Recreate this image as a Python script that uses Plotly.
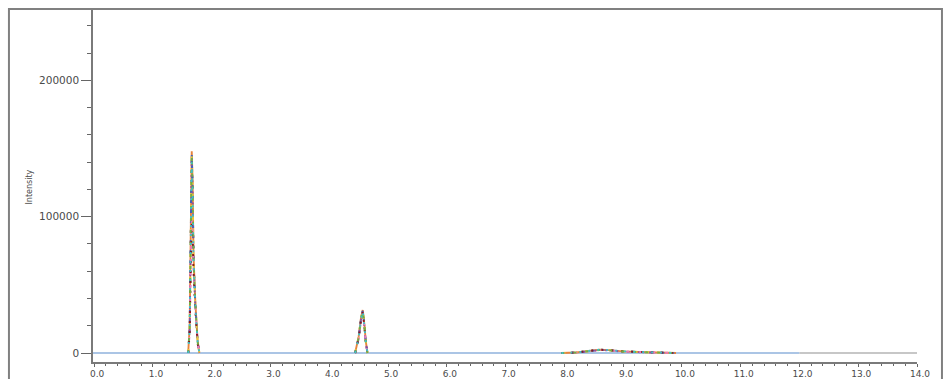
import plotly.graph_objects as go

# Retention time points (min); None marks gaps between peak regions
rt = [1.60, 1.625, 1.645, 1.66, 1.675, 1.69, 1.72, 1.76, 1.79, None,
      4.44, 4.50, 4.54, 4.57, 4.60, 4.62, 4.65, None,
      7.95, 8.20, 8.45, 8.60, 8.75, 9.00, 9.40, 9.90]

# Intensities of each overlaid injection
sig_orange = [0, 20000, 95000, 148000, 125000, 72000, 38000, 9000, 0, None,
              0, 12000, 26000, 31500, 20000, 9000, 0, None,
              0, 400, 1700, 2400, 2100, 1200, 600, 0]
sig_blue = [0, 18000, 92000, 146000, 122000, 70000, 36000, 8000, 0, None,
            0, 11000, 25000, 31000, 19000, 8500, 0, None,
            0, 300, 1500, 2200, 2000, 1100, 500, 0]
sig_yellow = [0, 19000, 94000, 147000, 124000, 71000, 37000, 8500, 0, None,
              0, 11500, 25500, 31200, 19500, 8800, 0, None,
              0, 350, 1600, 2300, 2050, 1150, 550, 0]
sig_purple = [0, 17000, 88000, 144000, 120000, 69000, 35000, 8000, 0, None,
              0, 10500, 24500, 30500, 18500, 8200, 0, None,
              0, 300, 1400, 2100, 1900, 1000, 450, 0]
sig_pink = [0, 15000, 70000, 98000, 90000, 62000, 33000, 7500, 0, None,
            0, 10000, 24000, 30000, 18000, 8000, 0, None,
            0, 300, 1500, 2200, 2000, 1100, 500, 0]
sig_darkred = [0, 14000, 66000, 95000, 88000, 60000, 32000, 7000, 0, None,
               0, 10200, 24200, 30200, 18200, 8100, 0, None,
               0, 350, 1600, 2300, 2100, 1200, 600, 0]
sig_green = [0, 18000, 90000, 145000, 121000, 70000, 36000, 8200, 0, None,
             0, 11200, 25200, 31100, 19200, 8600, 0, None,
             0, 300, 1500, 2200, 2000, 1100, 500, 0]
sig_teal = [0, 17500, 89000, 140000, 118000, 68000, 35500, 8100, 0, None,
            0, 10800, 24800, 30800, 18800, 8400, 0, None,
            0, 400, 1700, 2500, 2200, 1250, 600, 0]
sig_gray = [0, 18500, 91000, 145500, 121500, 70500, 36500, 8300, 0, None,
            0, 11300, 25300, 31300, 19300, 8700, 0, None,
            0, 450, 1800, 2600, 2300, 1300, 650, 0]

series_names = ["Inj 1", "Inj 2", "Inj 3", "Inj 4", "Inj 5", "Inj 6", "Inj 7", "Inj 8", "Inj 9"]
series_values = [sig_orange, sig_gray, sig_blue, sig_yellow, sig_purple, sig_pink,
                 sig_darkred, sig_green, sig_teal]
series_colors = ["#e8843c", "#6a6a6a", "#3f5fc4", "#e6c83a", "#8a4fa8", "#e87ab8",
                 "#8b1a1a", "#6fae47", "#3cc0c8"]
series_dash = ["solid", "2px,8px", "3px,7px", "4px,8px", "2px,9px", "3px,10px",
               "2px,8px", "3px,9px", "2px,7px"]

# Flat baseline segments
base_blue_x = [-0.02, 12.0]
base_gray_x = [12.0, 14.0]
base_y = [0, 0]

x_ticks = [0, 1, 2, 3, 4, 5, 6, 7, 8, 9, 10, 11, 12, 13, 14]
y_ticks = [0, 100000, 200000]

fig = go.Figure()
fig.add_trace(go.Scatter(x=base_blue_x, y=base_y, mode="lines",
                         line=dict(color="#8fb2dc", width=1.5), showlegend=False))
fig.add_trace(go.Scatter(x=base_gray_x, y=base_y, mode="lines",
                         line=dict(color="#b4b4b4", width=1.5), showlegend=False))
for name, vals, col, dsh in zip(series_names, series_values, series_colors, series_dash):
    fig.add_trace(go.Scatter(x=rt, y=vals, mode="lines", name=name,
                             line=dict(color=col, width=1.9, dash=dsh),
                             connectgaps=False, showlegend=False))

font_family = "DejaVu Sans"
fig.update_layout(
    width=952, height=379,
    margin=dict(l=93, r=35, t=10, b=17),
    paper_bgcolor="white", plot_bgcolor="white",
    font=dict(family=font_family, size=10, color="#4a4a4a"),
    xaxis=dict(range=[-0.02, 14.0], tickvals=x_ticks, tickformat=".1f",
               ticks="outside", ticklen=3, tickwidth=1, tickcolor="#666666",
               showline=True, linecolor="#7a7a7a", linewidth=1.5,
               showgrid=False, zeroline=False, ticklabelshift=3,
               ticklabelstandoff=-1,
               automargin=False,
               tickfont=dict(size=9, color="#4a4a4a"),
               minor=dict(dtick=0.2, tick0=0, ticks="outside", ticklen=2,
                          tickcolor="#666666", showgrid=False)),
    yaxis=dict(range=[-6600, 251650], tickvals=y_ticks, tickformat="d",
               ticks="outside", ticklen=10, tickwidth=1, tickcolor="#666666",
               showline=True, linecolor="#7a7a7a", linewidth=1.5,
               showgrid=False, zeroline=False, automargin=False,
               tickfont=dict(size=10.5, color="#4a4a4a"),
               minor=dict(dtick=20000, tick0=0, ticks="outside", ticklen=4,
                          tickcolor="#666666", showgrid=False)),
    annotations=[dict(text="Intensity", xref="paper", yref="paper",
                      x=-0.085, y=0.497, textangle=-90, showarrow=False,
                      font=dict(size=8, color="#4a4a4a", family=font_family))],
    shapes=[dict(type="rect", xref="paper", yref="paper",
                 x0=-0.102, x1=1.0303, y0=-0.2, y1=1.003,
                 line=dict(color="#808080", width=2), layer="below")],
)

fig.write_html("out.html")
